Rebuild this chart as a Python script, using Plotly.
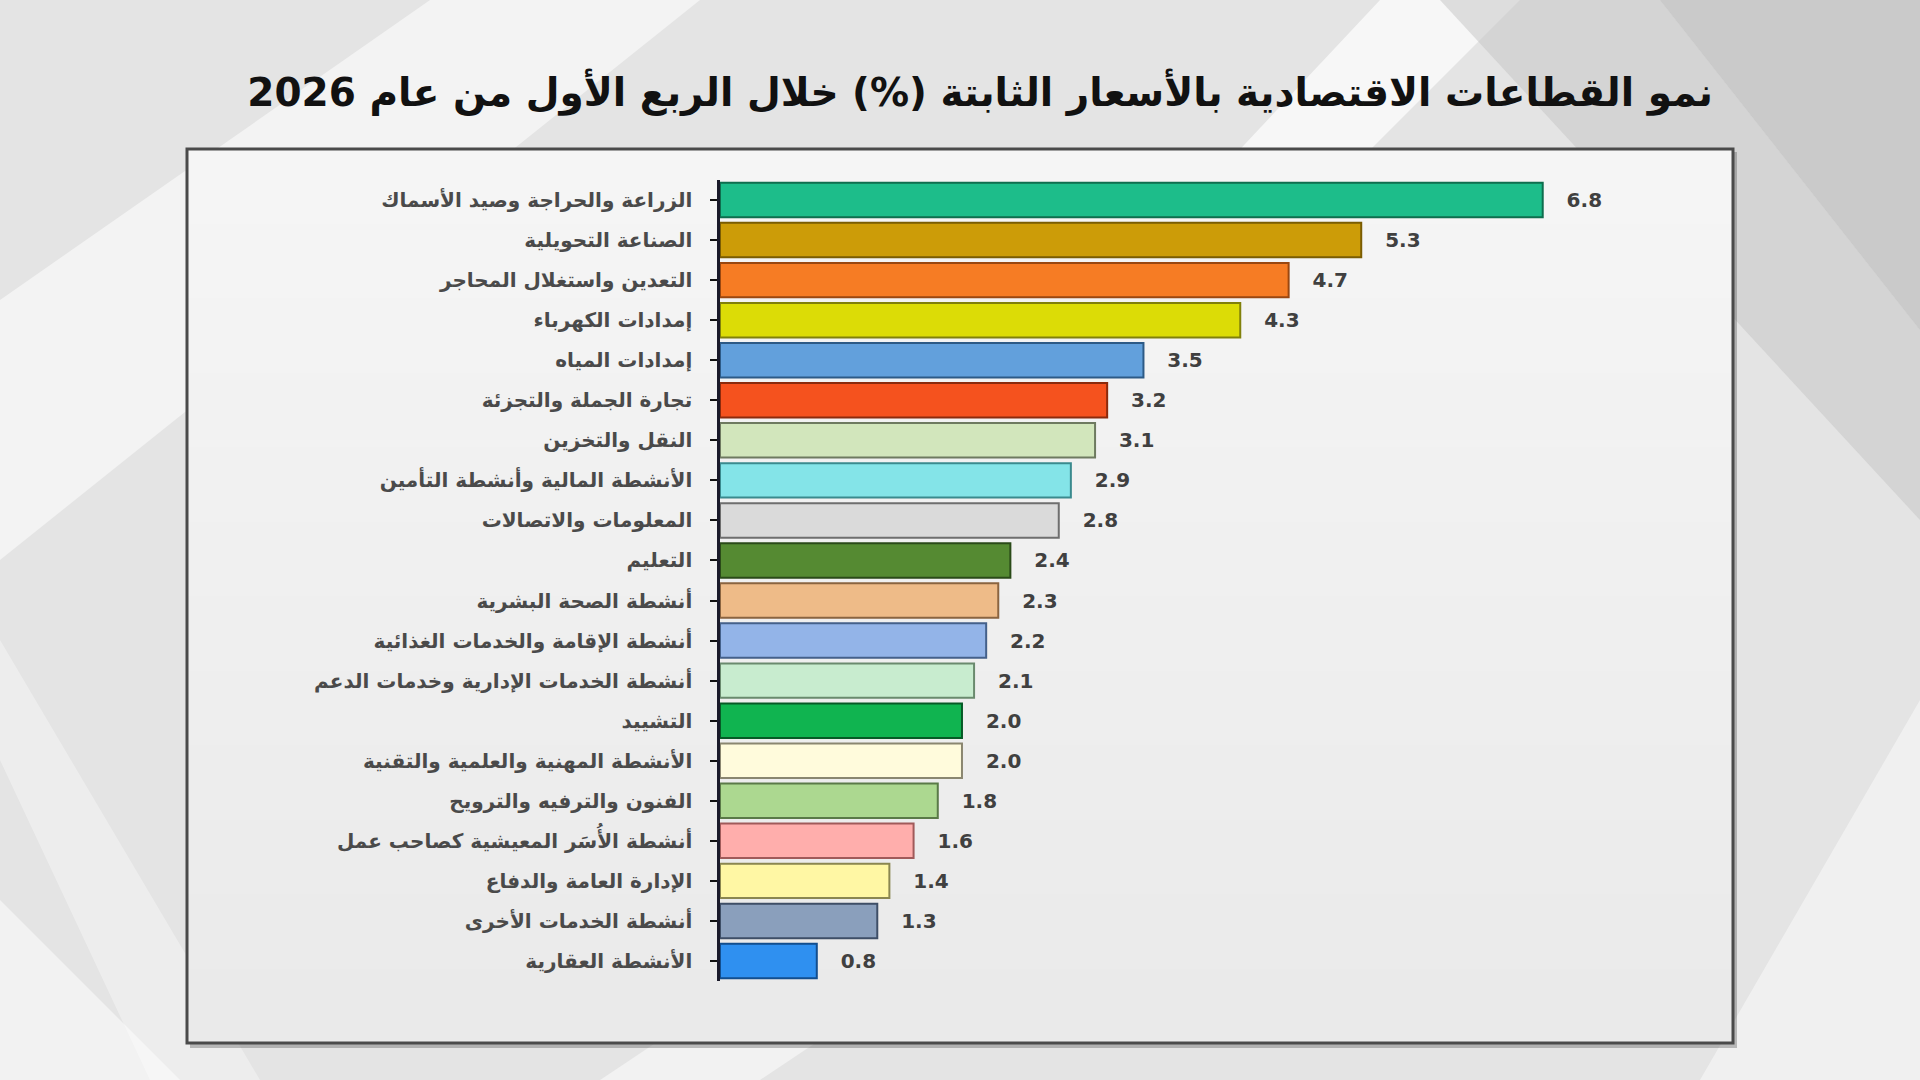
import plotly.graph_objects as go

categories = [
    "الزراعة والحراجة وصيد الأسماك",
    "الصناعة التحويلية",
    "التعدين واستغلال المحاجر",
    "إمدادات الكهرباء",
    "إمدادات المياه",
    "تجارة الجملة والتجزئة",
    "النقل والتخزين",
    "الأنشطة المالية وأنشطة التأمين",
    "المعلومات والاتصالات",
    "التعليم",
    "أنشطة الصحة البشرية",
    "أنشطة الإقامة والخدمات الغذائية",
    "أنشطة الخدمات الإدارية وخدمات الدعم",
    "التشييد",
    "الأنشطة المهنية والعلمية والتقنية",
    "الفنون والترفيه والترويح",
    "أنشطة الأُسَر المعيشية كصاحب عمل",
    "الإدارة العامة والدفاع",
    "أنشطة الخدمات الأخرى",
    "الأنشطة العقارية",
]
values = [6.8, 5.3, 4.7, 4.3, 3.5, 3.2, 3.1, 2.9, 2.8, 2.4,
          2.3, 2.2, 2.1, 2.0, 2.0, 1.8, 1.6, 1.4, 1.3, 0.8]
colors = ["#1dbd8a", "#cc9c08", "#f67c24", "#dcdc06", "#62a0dc", "#f5521e",
          "#d2e6bc", "#84e4e8", "#dadada", "#558a32", "#eebb88", "#93b4e8",
          "#c8eccf", "#10b450", "#fffbdc", "#acd890", "#ffaeac", "#fff7a4",
          "#8a9fbc", "#2f90f0"]
edge_colors = ["#0e6e4e", "#7a5c02", "#9a4710", "#80800a", "#2d5a86", "#8c2a0c",
               "#6e7a60", "#3a8a8e", "#6e6e6e", "#2a4a18", "#8a6440", "#44608a",
               "#6a8a6e", "#065a26", "#8a8670", "#5a7a48", "#a05a5a", "#8a8650",
               "#3e4e66", "#124e8e"]

fig = go.Figure()
fig.add_trace(go.Bar(
    x=values, y=categories, orientation="h",
    marker=dict(color=colors, line=dict(color=edge_colors, width=2)),
    text=values, texttemplate="   %{x:.1f}", textposition="outside",
    textfont=dict(family="DejaVu Sans", size=20, color="#404040", weight="bold"),
    cliponaxis=False, hoverinfo="skip",
))

# plot area in pixels
PL, PR, PT, PB = 720, 1700, 180, 981


def X(px):
    return (px - PL) / (PR - PL)


def Y(py):
    return (PB - py) / (PB - PT)


def path(pts):
    s = "M " + " L ".join(f"{X(a):.4f} {Y(b):.4f}" for a, b in pts) + " Z"
    return s


shapes = []
# background diagonal light / dark shapes (pixel coordinates of the page)
bg_paths = [
    ([(0, 560), (0, 300), (430, 0), (700, 0)], "rgba(255,255,255,0.55)"),
    ([(0, 1080), (0, 900), (180, 1080)], "rgba(255,255,255,0.5)"),
    ([(0, 760), (0, 640), (260, 1080), (150, 1080)], "rgba(255,255,255,0.35)"),
    ([(1380, 0), (1520, 0), (1360, 160), (1230, 160)], "rgba(255,255,255,0.7)"),
    ([(1440, 0), (1660, 0), (1920, 330), (1920, 520)], "rgba(195,195,195,0.5)"),
    ([(1660, 0), (1920, 0), (1920, 330)], "rgba(175,175,175,0.5)"),
    ([(1920, 700), (1920, 1080), (1700, 1080)], "rgba(255,255,255,0.45)"),
    ([(600, 1080), (760, 1080), (820, 1040), (660, 1040)], "rgba(255,255,255,0.5)"),
]
for pts, c in bg_paths:
    shapes.append(dict(type="path", path=path(pts), xref="paper", yref="paper",
                       fillcolor=c, line=dict(width=0), layer="below"))

bx0, bx1 = X(187), X(1733)
by0, by1 = Y(1043), Y(149)
# shadow
shapes.append(dict(type="rect", xref="paper", yref="paper",
                   x0=X(190), x1=X(1737), y0=Y(1048), y1=Y(152),
                   fillcolor="rgba(80,80,80,0.35)", line=dict(width=0), layer="below"))
# box
shapes.append(dict(type="rect", xref="paper", yref="paper",
                   x0=bx0, x1=bx1, y0=by0, y1=by1,
                   fillcolor="#e8e8e8", line=dict(width=0), layer="below"))
# vertical gradient emulation (lighter at top)
nb = 12
for i in range(nb):
    t0 = by1 - (by1 - by0) * (i + 1) / nb
    shapes.append(dict(type="rect", xref="paper", yref="paper",
                       x0=bx0, x1=bx1, y0=t0, y1=by1,
                       fillcolor="rgba(255,255,255,0.09)", line=dict(width=0), layer="below"))
shapes.append(dict(type="rect", xref="paper", yref="paper",
                   x0=bx0, x1=bx1, y0=by0, y1=by1,
                   fillcolor="rgba(0,0,0,0)", line=dict(color="#4a4a4a", width=3), layer="below"))

fig.update_layout(
    width=1920, height=1080,
    margin=dict(l=PL, r=1920 - PR, t=PT, b=1080 - PB),
    paper_bgcolor="#e4e4e4",
    plot_bgcolor="rgba(0,0,0,0)",
    bargap=0.14,
    showlegend=False,
    shapes=shapes,
    title=dict(
        text="نمو القطاعات الاقتصادية بالأسعار الثابتة (%) خلال الربع الأول من عام 2026",
        x=0.5105, xanchor="center", y=1 - 92 / 1080, yanchor="middle",
        font=dict(family="DejaVu Sans", size=39, color="#111111", weight="bold"),
    ),
    font=dict(family="DejaVu Sans"),
)
fig.update_xaxes(range=[0, 8.1], visible=False, showgrid=False, zeroline=False)
fig.update_yaxes(
    autorange="reversed",
    showline=True, linecolor="#1a1a2a", linewidth=2.5,
    ticks="outside", ticklen=7, tickwidth=2, tickcolor="#111111",
    ticklabelstandoff=14,
    tickfont=dict(family="DejaVu Sans", size=20, color="#4a4a4a", weight="bold"),
    showgrid=False, zeroline=False,
)

fig.write_html("out.html")
